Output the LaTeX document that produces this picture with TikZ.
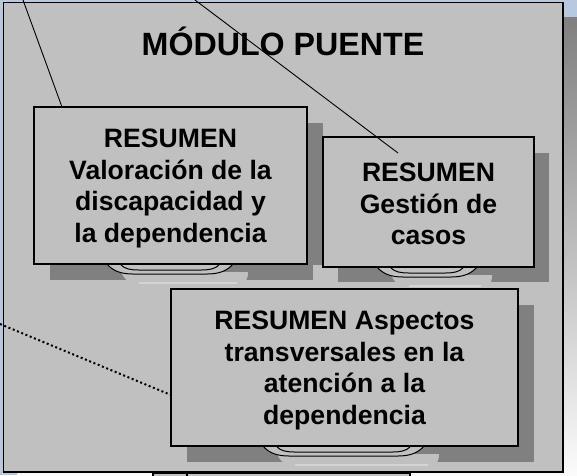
\documentclass[tikz,border=0pt]{standalone}
\usepackage{fontspec}
\setmainfont{Liberation Sans}
\definecolor{bgblue}{RGB}{184,200,222}
\definecolor{panel}{RGB}{192,192,192}
\definecolor{shade}{RGB}{128,128,128}
\definecolor{hilite}{RGB}{212,212,212}
\newcommand\mystand[3]{%
  % #1 = left x, #2 = right x, #3 = top y (box bottom)
  \fill[panel] ({#1+14},{#3+8}) .. controls ({#1+20},{#3+21}) and ({#1+30},{#3+22}) .. ({#1+40},{#3+22})
     -- ({#2+2},{#3+22}) .. controls ({#2+12},{#3+22}) and ({#2+15},{#3+16}) .. ({#2+15},{#3+8}) -- cycle;
  \draw[hilite, line width=1.2pt] ({#1+32},{#3+19}) -- ({#2+4},{#3+19});
  \draw[standline, fill=panel] (#1,#3) .. controls ({#1+6},{#3+7}) and ({#1+14},{#3+10}) .. ({#1+26},{#3+10})
     -- ({#2-26},{#3+10}) .. controls ({#2-14},{#3+10}) and ({#2-6},{#3+7}) .. (#2,#3) -- cycle;
  \draw[standline] ({#1+14},{#3+1}) .. controls ({#1+18},{#3+5}) and ({#1+24},{#3+6}) .. ({#1+32},{#3+6})
     -- ({#2-32},{#3+6}) .. controls ({#2-24},{#3+6}) and ({#2-18},{#3+5}) .. ({#2-14},{#3+1});
}
\begin{document}
\begin{tikzpicture}[x=1pt,y=-1pt,
  frame/.style={draw=black, line width=1.5pt, fill=panel},
  boxstyle/.style={draw=black, line width=1.3pt, fill=panel, inner sep=0pt},
  boxtext/.style={inner sep=0pt, font=\bfseries\fontsize{26.6}{31.6}\selectfont, align=center},
  shadowfill/.style={fill=shade, draw=none},
  standline/.style={draw=black, line width=1pt},
  connector/.style={draw=black, line width=0.9pt},
  dotline/.style={draw=black, line width=2pt, dash pattern=on 2pt off 2.6pt}]
\useasboundingbox (0,0) rectangle (577,475);
\fill[bgblue] (0,0) rectangle (577,475);
% big panel shadow and panel
\fill[shade] (17,17) rectangle (590,490);
\draw[frame] (3.5,2.5) rectangle (563,472);
% partial boxes at bottom edge
\draw[draw=black, line width=1.3pt, fill=panel] (153,473.8) rectangle (187,482);
\draw[draw=black, line width=1.3pt, fill=panel] (187,473.8) rectangle (410,482);
% title
\node[anchor=base, font=\bfseries\fontsize{32.2}{36}\selectfont] (title) at (283,55) {MÓDULO PUENTE};
% box shadows
\fill[shadowfill] (50,123) rectangle (313,280);
\fill[shadowfill] (307,123) rectangle (323,265);
\fill[shadowfill] (338,153) rectangle (549,282);
\fill[shadowfill] (187,305) rectangle (534,462);
% stands
\mystand{107}{233}{264}
\mystand{377}{477}{267}
\mystand{263}{424}{446}
% boxes
\node[boxstyle, minimum width=273pt, minimum height=157pt] (b1) at (170.5,185.5) {};
\node[boxstyle, minimum width=211pt, minimum height=130pt] (b2) at (428.5,202) {};
\node[boxstyle, minimum width=347pt, minimum height=157pt] (b3) at (344.5,367.5) {};
\node[boxtext] (t1) at (170.5,188.5) {RESUMEN\\Valoración de la\\discapacidad y\\la dependencia};
\node[boxtext] (t2) at (428.5,204) {RESUMEN\\Gestión de\\casos};
\node[boxtext] (t3) at (344.5,370.5) {RESUMEN Aspectos\\transversales en la\\atención a la\\dependencia};
% connectors
\coordinate (s1) at (23,0);
\coordinate (e1) at (62,107);
\coordinate (s2) at (195,0);
\coordinate (e2) at (398,153);
\coordinate (s3) at (0,324);
\coordinate (e3) at (171,395);
\draw[connector] (s1) -- (e1);
\draw[connector] (s2) -- (e2);
\draw[dotline] (s3) -- (e3);
\end{tikzpicture}
\end{document}
